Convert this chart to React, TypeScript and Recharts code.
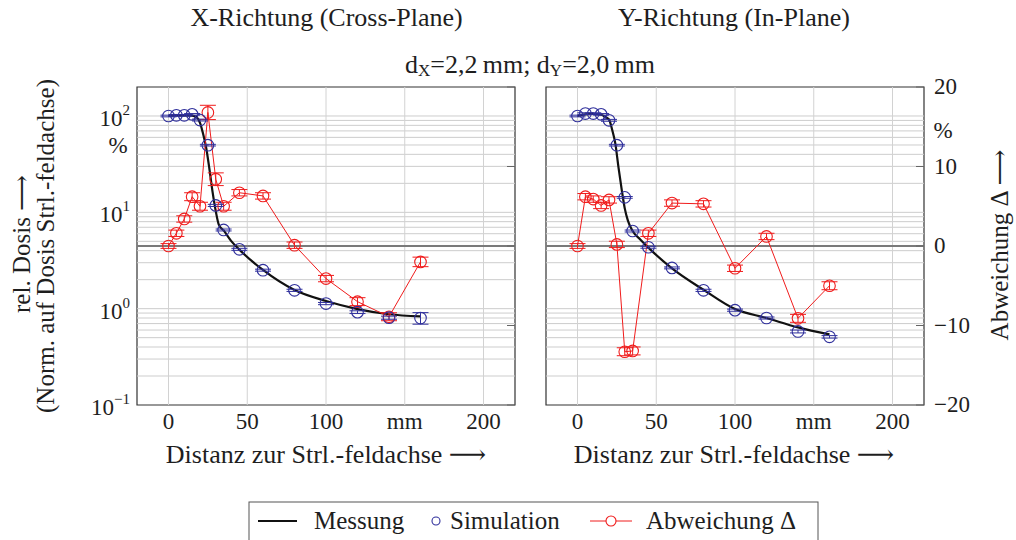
import React from 'react';
import {
  ComposedChart,
  Line,
  Scatter,
  XAxis,
  YAxis,
  ReferenceLine,
  ReferenceArea,
  ErrorBar,
} from 'recharts';

const FONT = '"Liberation Serif", "DejaVu Serif", serif';
const BLUE = '#30309c';
const RED = '#f01c1c';
const TXT = '#1e1e1e';

// positions of the simulated / compared points (mm)
const positions = [0, 5, 10, 15, 20, 25, 30, 35, 45, 60, 80, 100, 120, 140, 160];

// X-Richtung (Cross-Plane)
const simLeft = [100, 101.7, 101.7, 104, 90.8, 49.8, 11.8, 6.56, 4.13, 2.51, 1.55, 1.13, 0.92, 0.806, 0.8];
const simLeftErr = [2, 2, 2, 2, 2, 1, 0.3, 0.15, 0.1, 0.06, 0.04, 0.03, 0.03, 0.03, 0.11];
const devLeft = [0, 1.6, 3.4, 6.2, 5.0, 16.8, 8.4, 5.0, 6.7, 6.3, 0.1, -4.1, -7.0, -8.9, -2.0];
const devLeftErr = [0.3, 0.4, 0.4, 0.5, 0.5, 0.9, 0.8, 0.5, 0.4, 0.4, 0.4, 0.4, 0.5, 0.5, 0.6];
const messLeftX = [0, 5, 10, 15, 18, 20, 22, 24, 26, 28, 30, 32, 35, 40, 45, 60, 80, 100, 120, 140, 160];
const messLeftY = [100, 101.5, 101.5, 101, 97, 85, 65, 46, 28, 16.2, 10.3, 7.4, 6.5, 5.0, 4.1, 2.52, 1.56, 1.2, 0.99, 0.875, 0.83];

// Y-Richtung (In-Plane)
const simRight = [100, 106, 106, 104, 90.2, 49.8, 14.3, 6.4, 4.34, 2.65, 1.55, 0.965, 0.8, 0.58, 0.51];
const simRightErr = [2, 2, 2, 2, 2, 1, 0.3, 0.15, 0.1, 0.06, 0.04, 0.025, 0.02, 0.02, 0.015];
const devRight = [0, 6.2, 5.9, 5.1, 5.8, 0.2, -13.3, -13.2, 1.6, 5.4, 5.3, -2.8, 1.2, -9.1, -5.0];
const devRightErr = [0.3, 0.4, 0.4, 0.4, 0.4, 0.4, 0.5, 0.5, 0.4, 0.4, 0.4, 0.4, 0.4, 0.5, 0.5];
const messRightX = [0, 5, 10, 15, 18, 20, 22, 24, 26, 28, 30, 32, 35, 40, 45, 60, 80, 100, 120, 140, 160];
const messRightY = [100, 104, 105, 103, 97, 92, 72, 52, 29.5, 17.5, 11, 8.2, 6.4, 5.2, 4.3, 2.62, 1.57, 0.99, 0.8, 0.64, 0.54];

// axes
const xTicks = [0, 50, 100, 150, 200];
const xDomain = [-20, 220];
const logTicks = [0.1, 1, 10, 100];
const logDomain = [0.1, 200];
const logGrid = [
  0.2, 0.3, 0.4, 0.5, 0.6, 0.7, 0.8, 0.9, 1,
  2, 3, 4, 5, 6, 7, 8, 9, 10,
  20, 30, 40, 50, 60, 70, 80, 90, 100,
];
const devTicks = [-20, -10, 0, 10, 20];
const devDomain = [-20, 20];

const toPts = (xs: number[], ys: number[], es?: number[]) =>
  xs.map((x, i) => ({ x, y: ys[i], err: es ? es[i] : 0 }));

const LogTick = (props: any) => {
  const { x, y, payload } = props;
  const exp = Math.round(Math.log10(payload.value));
  return (
    <text x={x} y={y + 10} textAnchor="end" fontFamily={FONT} fontSize={23} fill={TXT}>
      10
      <tspan dy={-11} fontSize={15}>{exp < 0 ? '\u2212' + Math.abs(exp) : String(exp)}</tspan>
    </text>
  );
};

const makeDevTick = (showLabel: boolean) => (props: any) => {
  const { x, y, payload } = props;
  const ax = x - 8;
  const v = payload.value;
  return (
    <g>
      <line x1={ax - 8} x2={ax} y1={y} y2={y} stroke="#666" strokeWidth={1} />
      {showLabel && (
        <text x={x + 2} y={y + 7} textAnchor="start" fontFamily={FONT} fontSize={23} fill={TXT}>
          {v < 0 ? '\u2212' + Math.abs(v) : String(v)}
        </text>
      )}
    </g>
  );
};

const Circle = (color: string, r: number) => (props: any) => {
  const { cx, cy } = props;
  if (cx == null || cy == null) return <g />;
  return <circle cx={cx} cy={cy} r={r} fill="none" stroke={color} strokeWidth={1.1} />;
};

type PanelProps = {
  sim: { x: number; y: number; err: number }[];
  dev: { x: number; y: number; err: number }[];
  mess: { x: number; y: number; err: number }[];
  leftLabels: boolean;
  rightLabels: boolean;
  width: number;
  margin: { top: number; right: number; bottom: number; left: number };
  leftWidth: number;
  rightWidth: number;
};

const Panel = ({ sim, dev, mess, leftLabels, rightLabels, width, margin, leftWidth, rightWidth }: PanelProps) => (
  <ComposedChart width={width} height={470} margin={margin} data={sim}>
    <XAxis
      type="number"
      dataKey="x"
      domain={xDomain}
      ticks={xTicks}
      allowDataOverflow
      axisLine={false}
      tickLine={false}
      tickFormatter={(v: number) => (v === 150 ? 'mm' : String(v))}
      tick={{ fontSize: 23, fill: TXT, fontFamily: FONT }}
      interval={0}
    />
    <YAxis
      yAxisId="L"
      type="number"
      scale="log"
      domain={logDomain}
      ticks={logTicks}
      allowDataOverflow
      axisLine={false}
      tickLine={false}
      tickSize={0}
      tickMargin={7}
      width={leftWidth}
      tick={leftLabels ? <LogTick /> : false}
      interval={0}
    />
    <YAxis
      yAxisId="R"
      orientation="right"
      type="number"
      domain={devDomain}
      ticks={devTicks}
      allowDataOverflow
      axisLine={false}
      tickLine={false}
      tickSize={0}
      tickMargin={8}
      width={rightWidth}
      tick={makeDevTick(rightLabels)}
      interval={0}
    />
    {logGrid.map((v) => (
      <ReferenceLine key={'h' + v} yAxisId="L" y={v} stroke="#cdcdcd" strokeWidth={1} />
    ))}
    {xTicks.map((v) => (
      <ReferenceLine key={'v' + v} yAxisId="L" x={v} stroke="#d2d2d2" strokeWidth={1} />
    ))}
    <ReferenceLine yAxisId="R" y={0} stroke="#7a7a7a" strokeWidth={2} />
    <Line
      yAxisId="L"
      data={mess}
      dataKey="y"
      type="monotone"
      stroke="#111"
      strokeWidth={2.2}
      dot={false}
      isAnimationActive={false}
    />
    <Line
      yAxisId="R"
      data={dev}
      dataKey="y"
      type="linear"
      stroke={RED}
      strokeWidth={1}
      dot={Circle(RED, 5.8)}
      isAnimationActive={false}
    >
      <ErrorBar dataKey="err" direction="y" width={8} stroke={RED} strokeWidth={1} />
    </Line>
    <Scatter
      yAxisId="L"
      data={sim}
      dataKey="y"
      shape={Circle(BLUE, 5.8)}
      isAnimationActive={false}
    >
      <ErrorBar dataKey="err" direction="y" width={8} stroke={BLUE} strokeWidth={1} />
    </Scatter>
    <ReferenceArea
      yAxisId="L"
      x1={xDomain[0]}
      x2={xDomain[1]}
      y1={logDomain[0]}
      y2={logDomain[1]}
      fill="none"
      fillOpacity={0}
      stroke="#333"
      strokeWidth={1.2}
      ifOverflow="visible"
    />
  </ComposedChart>
);

export default function App() {
  const simL = toPts(positions, simLeft, simLeftErr);
  const devL = toPts(positions, devLeft, devLeftErr);
  const messL = toPts(messLeftX, messLeftY);
  const simR = toPts(positions, simRight, simRightErr);
  const devR = toPts(positions, devRight, devRightErr);
  const messR = toPts(messRightX, messRightY);

  return (
    <div style={{ position: 'absolute', left: 0, top: 0, width: 1016, height: 540, background: '#fff', overflow: 'hidden' }}>
      <div style={{ position: 'absolute', left: 0, top: 0 }}>
        <Panel
          sim={simL}
          dev={devL}
          mess={messL}
          leftLabels={true}
          rightLabels={false}
          width={530}
          leftWidth={60}
          rightWidth={10}
          margin={{ top: 87, right: 5, bottom: 35, left: 77 }}
        />
      </div>
      <div style={{ position: 'absolute', left: 530, top: 0 }}>
        <Panel
          sim={simR}
          dev={devR}
          mess={messR}
          leftLabels={false}
          rightLabels={true}
          width={486}
          leftWidth={10}
          rightWidth={60}
          margin={{ top: 87, right: 32, bottom: 35, left: 6 }}
        />
      </div>
      <svg
        width={1016}
        height={540}
        style={{ position: 'absolute', left: 0, top: 0, pointerEvents: 'none' }}
        fontFamily={FONT}
        fill={TXT}
      >
        <text x={326.5} y={26} textAnchor="middle" fontSize={26}>X-Richtung (Cross-Plane)</text>
        <text x={734} y={26} textAnchor="middle" fontSize={26}>Y-Richtung (In-Plane)</text>
        <text x={530} y={73} textAnchor="middle" fontSize={26}>
          d<tspan fontSize={17} dy={3}>X</tspan>
          <tspan dy={-3}>=2,2{'\u2009'}mm; d</tspan>
          <tspan fontSize={17} dy={3}>Y</tspan>
          <tspan dy={-3}>=2,0{'\u2009'}mm</tspan>
        </text>
        <text x={118} y={153} textAnchor="middle" fontSize={23}>%</text>
        <text x={943} y={138} textAnchor="middle" fontSize={23}>%</text>
        <text x={326} y={463} textAnchor="middle" fontSize={26}>Distanz zur Strl.-feldachse {'\u27F6'}</text>
        <text x={734} y={463} textAnchor="middle" fontSize={26}>Distanz zur Strl.-feldachse {'\u27F6'}</text>
        <text transform="translate(30,244) rotate(-90)" textAnchor="middle" fontSize={25}>rel. Dosis {'\u27F6'}</text>
        <text transform="translate(54,246) rotate(-90)" textAnchor="middle" fontSize={25}>(Norm. auf Dosis Strl.-feldachse)</text>
        <text transform="translate(1008,245) rotate(-90)" textAnchor="middle" fontSize={25}>Abweichung {'\u0394'} {'\u27F6'}</text>

        <rect x={249} y={502} width={569} height={42} fill="#fff" stroke="#555" strokeWidth={1} />
        <line x1={258} x2={297} y1={521} y2={521} stroke="#111" strokeWidth={2} />
        <text x={314} y={529} fontSize={25}>Messung</text>
        <circle cx={436} cy={521} r={4} fill="none" stroke={BLUE} strokeWidth={1.1} />
        <text x={450} y={529} fontSize={25}>Simulation</text>
        <line x1={590} x2={632} y1={521} y2={521} stroke={RED} strokeWidth={1} />
        <circle cx={611} cy={521} r={5} fill="#fff" stroke={RED} strokeWidth={1.1} />
        <text x={646} y={529} fontSize={25}>Abweichung {'\u0394'}</text>
      </svg>
    </div>
  );
}
